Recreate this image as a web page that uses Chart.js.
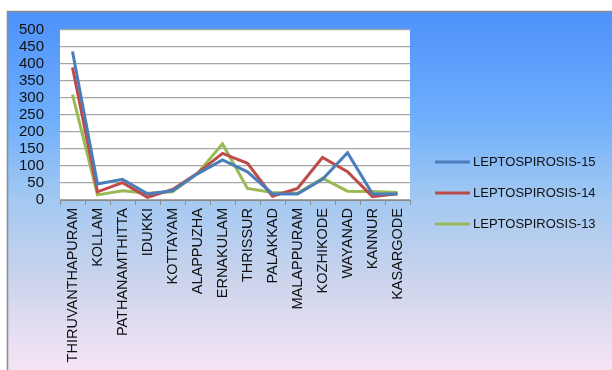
<!DOCTYPE html>
<html>
<head>
<meta charset="utf-8">
<script src="https://cdn.jsdelivr.net/npm/chart.js@4.4.1/dist/chart.umd.min.js"></script>
<style>
  html, body { margin: 0; padding: 0; background: #ffffff; }
  #wrap { width: 612px; height: 370px; position: relative; }
</style>
</head>
<body>
<div id="wrap"><canvas id="chart" width="612" height="370"></canvas></div>
<script>
// Leptospirosis cases by district of Kerala
const districts = [
  'THIRUVANTHAPURAM', 'KOLLAM', 'PATHANAMTHITTA', 'IDUKKI', 'KOTTAYAM',
  'ALAPPUZHA', 'ERNAKULAM', 'THRISSUR', 'PALAKKAD', 'MALAPPURAM',
  'KOZHIKODE', 'WAYANAD', 'KANNUR', 'KASARGODE'
];
const lepto15 = [437, 47, 61, 18, 27, 77, 118, 83, 18, 18, 61, 139, 18, 18];
const lepto14 = [390, 24, 51, 8, 31, 79, 137, 108, 11, 34, 125, 83, 10, 18];
const lepto13 = [310, 15, 27, 20, 24, 78, 165, 34, 22, 20, 64, 26, 25, 22];
const seriesNames = ['LEPTOSPIROSIS-15', 'LEPTOSPIROSIS-14', 'LEPTOSPIROSIS-13'];
const yTicks = [0, 50, 100, 150, 200, 250, 300, 350, 400, 450, 500];

const colors = ['#4A7EBB', '#BE4B48', '#98B954'];

// Panel background with a vertical gradient and white plot area
const backdrop = {
  id: 'backdrop',
  beforeDraw(chart) {
    const ctx = chart.ctx;
    const W = chart.width, H = chart.height;
    ctx.save();
    ctx.fillStyle = '#ffffff';
    ctx.fillRect(0, 0, W, H);
    const g = ctx.createLinearGradient(0, 11, 0, H);
    g.addColorStop(0, '#4E91FA');
    g.addColorStop(0.3, '#6EAFFC');
    g.addColorStop(0.52, '#A2C8F2');
    g.addColorStop(0.75, '#CBD4EC');
    g.addColorStop(1, '#F6E4F6');
    ctx.fillStyle = g;
    ctx.fillRect(7, 11, W - 7, H - 11);
    ctx.strokeStyle = '#8c8c8c';
    ctx.lineWidth = 1.5;
    ctx.beginPath();
    ctx.moveTo(7.5, H);
    ctx.lineTo(7.5, 11.5);
    ctx.lineTo(W, 11.5);
    ctx.stroke();
    const a = chart.chartArea;
    ctx.fillStyle = '#ffffff';
    ctx.fillRect(a.left, a.top, a.right - a.left, a.bottom - a.top);
    ctx.restore();
  }
};

// Legend drawn to the right of the plot
const sideLegend = {
  id: 'sideLegend',
  afterDraw(chart) {
    const ctx = chart.ctx;
    ctx.save();
    ctx.font = '13px "Liberation Sans", Arial, sans-serif';
    ctx.textBaseline = 'middle';
    ctx.fillStyle = '#111111';
    chart.data.datasets.forEach((ds, i) => {
      const y = 162 + i * 31;
      ctx.strokeStyle = ds.borderColor;
      ctx.lineWidth = 3;
      ctx.beginPath();
      ctx.moveTo(435, y);
      ctx.lineTo(470, y);
      ctx.stroke();
      ctx.fillText(ds.label, 473, y);
    });
    ctx.restore();
  }
};

const datasets = [lepto15, lepto14, lepto13].map((vals, i) => ({
  label: seriesNames[i],
  data: vals,
  borderColor: colors[i],
  backgroundColor: colors[i],
  borderWidth: 3,
  pointRadius: 0,
  tension: 0,
  fill: false
}));

new Chart(document.getElementById('chart'), {
  type: 'line',
  data: { labels: districts, datasets },
  options: {
    responsive: false,
    animation: false,
    events: [],
    layout: { padding: { left: 0, top: 30, right: 202, bottom: 0 } },
    plugins: { legend: { display: false }, tooltip: { enabled: false } },
    scales: {
      x: {
        offset: true,
        grid: {
          display: true,
          offset: true,
          drawOnChartArea: false,
          drawTicks: true,
          tickLength: 5,
          color: '#8c8c8c'
        },
        border: { display: true, color: '#8c8c8c', width: 1 },
        ticks: {
          autoSkip: false,
          maxRotation: 90,
          minRotation: 90,
          padding: 3,
          color: '#111111',
          font: { family: '"Liberation Sans", Arial, sans-serif', size: 14.5 }
        },
        afterFit(scale) { scale.height = 170; }
      },
      y: {
        min: 0,
        max: 500,
        afterBuildTicks(scale) { scale.ticks = yTicks.map(v => ({ value: v })); },
        grid: { color: '#a6a6a6', lineWidth: 1.2, drawTicks: false },
        border: { display: false },
        ticks: {
          autoSkip: false,
          padding: 16,
          color: '#111111',
          font: { family: '"Liberation Sans", Arial, sans-serif', size: 15 }
        },
        afterFit(scale) { scale.width = 60; }
      }
    }
  },
  plugins: [backdrop, sideLegend]
});
</script>
</body>
</html>
